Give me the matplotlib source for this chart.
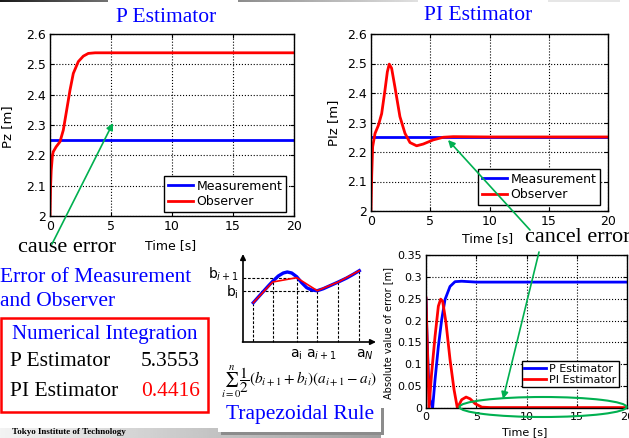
import numpy as np
import matplotlib
matplotlib.use('Agg')
from matplotlib import pyplot as plt
from matplotlib.patches import Ellipse, Rectangle

# time axis and estimates
t_p = [0, 0.05, 0.1, 0.2, 0.27, 0.5, 0.82, 1.09, 1.37, 1.64, 1.91, 2.32, 2.73, 3.14, 3.7, 5, 10, 20]
pz_obs = [2.0, 2.1, 2.15, 2.2, 2.212, 2.228, 2.245, 2.283, 2.35, 2.415, 2.47, 2.509, 2.527, 2.536, 2.538, 2.538, 2.538, 2.538]

t_pi = [0, 0.06, 0.14, 0.34, 0.62, 0.9, 1.18, 1.38, 1.54, 1.74, 2.02, 2.44, 2.87, 3.29, 3.85,
        4.41, 5.25, 6.1, 6.94, 10, 20]
piz_obs = [2.0, 2.12, 2.218, 2.263, 2.29, 2.33, 2.41, 2.472, 2.498, 2.484, 2.42, 2.32, 2.263, 2.232, 2.221,
           2.227, 2.241, 2.25, 2.252, 2.251, 2.251]

measurement = 2.25

t_err_p = [0, 0.07, 0.23, 0.4, 0.66, 0.9, 1.23, 1.56, 1.89, 2.39, 2.89, 3.55, 5, 10, 20]
err_p = [0.25, 0.187, 0.08, 0.019, 0.0, 0.065, 0.141, 0.202, 0.248, 0.278, 0.289, 0.29, 0.288, 0.288, 0.288]

t_err_pi = [0, 0.3, 0.56, 0.9, 1.23, 1.46, 1.66, 1.99, 2.39, 2.79, 3.12, 3.55, 3.99, 4.39, 4.88,
            5.55, 6.4, 10, 20]
err_pi = [0.252, 0.0, 0.08, 0.164, 0.233, 0.249, 0.244, 0.195, 0.111, 0.042, 0.0, 0.019, 0.025, 0.021, 0.01,
          0.002, 0.001, 0.001, 0.001]

time_ticks = [0, 5, 10, 15, 20]
pos_ticks = [2.0, 2.1, 2.2, 2.3, 2.4, 2.5, 2.6]
err_ticks = [0, 0.05, 0.1, 0.15, 0.2, 0.25, 0.3, 0.35]

integ_names = ['P Estimator', 'PI Estimator']
integ_values = ['5.3553', '0.4416']

# trapezoid sketch (slide pixel coords)
node_x = [253.3, 272.7, 296.7, 317.3, 338.3, 359.3]
node_y = [302.7, 282.0, 277.7, 290.7, 282.0, 270.7]
curve_x = [253.3, 261.7, 268.3, 272.7, 278.3, 283.3, 287.3, 291.7, 296.7, 301.7, 306.7, 311.7,
           317.3, 323.3, 330.0, 338.3, 346.7, 353.3, 359.3]
curve_y = [302.7, 293.3, 286.0, 281.3, 276.0, 273.0, 272.0, 273.0, 276.7, 282.7, 287.7, 290.0,
           290.7, 288.7, 285.7, 282.0, 278.0, 274.3, 270.7]

W, H = 629, 438
blue = '#0000ff'
red = '#ff0000'
green = '#00b050'
serif = 'Liberation Serif'

fig = plt.figure(figsize=(W / 100, H / 100), dpi=100)


def box(l, t, r, b):
    return [l / W, 1 - b / H, (r - l) / W, (b - t) / H]


def style(ax, yticks):
    ax.set_xlim(0, 20)
    ax.set_ylim(yticks[0], yticks[-1])
    ax.set_xticks(time_ticks)
    ax.set_xticklabels(['%g' % v for v in time_ticks])
    ax.set_yticks(yticks)
    ax.set_yticklabels(['%g' % v for v in yticks])
    ax.grid(True, ls=':', color='k', lw=0.8)
    ax.tick_params(direction='in', length=3, labelsize=9, top=True, right=True, pad=3)
    for s in ax.spines.values():
        s.set_linewidth(1.0)


# P estimator
ax1 = fig.add_axes(box(50, 34, 294, 216))
ax1.plot([0, 20], [measurement, measurement], color=blue, lw=2, label='Measurement')
ax1.plot(t_p, pz_obs, color=red, lw=2, label='Observer')
style(ax1, pos_ticks)
ax1.set_xlabel('Time [s]', fontsize=9)
ax1.xaxis.set_label_coords(0.495, -0.16)
ax1.xaxis.label.set_va('center')
ax1.set_ylabel('Pz [m]', fontsize=9.5)
ax1.yaxis.set_label_coords(-0.148, 0.49)
ax1.legend(loc='lower right', bbox_to_anchor=(0.967, 0.022), borderaxespad=0, fontsize=9,
           fancybox=False, edgecolor='k', framealpha=1, labelspacing=0.2, borderpad=0.3,
           handletextpad=0.3)
ax1.get_legend().get_frame().set_linewidth(1.0)

# PI estimator
ax2 = fig.add_axes(box(371, 34, 608, 211))
ax2.plot([0, 20], [measurement, measurement], color=blue, lw=2, label='Measurement')
ax2.plot(t_pi, piz_obs, color=red, lw=2, label='Observer')
style(ax2, pos_ticks)
ax2.set_xlabel('Time [s]', fontsize=9)
ax2.xaxis.set_label_coords(0.49, -0.153)
ax2.xaxis.label.set_va('center')
ax2.set_ylabel('PIz [m]', fontsize=9.5)
ax2.yaxis.set_label_coords(-0.13, 0.5)
ax2.legend(loc='lower right', bbox_to_anchor=(0.966, 0.034), borderaxespad=0, fontsize=9,
           fancybox=False, edgecolor='k', framealpha=1, labelspacing=0.2, borderpad=0.3,
           handletextpad=0.3)
ax2.get_legend().get_frame().set_linewidth(1.0)

# absolute error
ax3 = fig.add_axes(box(426, 255, 627, 408))
ax3.plot(t_err_p, err_p, color=blue, lw=2, label='P Estimator')
ax3.plot(t_err_pi, err_pi, color=red, lw=2, label='PI Estimator')
style(ax3, err_ticks)
ax3.tick_params(labelsize=8)
ax3.set_xlabel('Time [s]', fontsize=8)
ax3.xaxis.set_label_coords(0.49, -0.157)
ax3.xaxis.label.set_va('center')
ax3.set_ylabel('Absolute value of error [m]', fontsize=7)
ax3.yaxis.set_label_coords(-0.165, 0.49)
ax3.legend(loc='lower right', bbox_to_anchor=(0.96, 0.137), borderaxespad=0, fontsize=8,
           fancybox=False, edgecolor='k', framealpha=1, labelspacing=0.1, borderpad=0.2,
           handletextpad=0.3)
ax3.get_legend().get_frame().set_linewidth(1.0)

# overlay in slide pixels
ov = fig.add_axes([0, 0, 1, 1])
ov.axis('off')

# slide decorations
ov.imshow(np.linspace(0.95, 0.62, 200)[None, :], cmap='gray', vmin=0, vmax=1,
          extent=[0, 381, 438, 428], aspect='auto', zorder=0)
ov.imshow(np.linspace(0.1, 0.45, 100)[None, :], cmap='gray', vmin=0, vmax=1,
          extent=[0, 108, 2, 0], aspect='auto', zorder=0)
ov.imshow(np.linspace(0.55, 0.88, 100)[None, :], cmap='gray', vmin=0, vmax=1,
          extent=[238, 418, 2, 0], aspect='auto', zorder=0)
ov.add_patch(Rectangle((548, 0), 72, 1.5, color='0.9', lw=0))
ov.add_patch(Rectangle((221, 408), 163, 27, color='0.55', lw=0, zorder=1))
ov.add_patch(Rectangle((218, 405), 163, 27, color='white', lw=0, zorder=1))

ov.text(166, 17, 'P Estimator', family=serif, fontsize=15.5, color=blue, ha='center', va='center')
ov.text(478, 15, 'PI Estimator', family=serif, fontsize=15.5, color=blue, ha='center', va='center')
ov.text(18, 247, 'cause error', family=serif, fontsize=16, ha='left', va='center')
ov.text(525, 238, 'cancel error', family=serif, fontsize=16, ha='left', va='center')
ov.text(0, 277, 'Error of Measurement', family=serif, fontsize=15.5, color=blue, ha='left', va='center')
ov.text(0, 301, 'and Observer', family=serif, fontsize=15.5, color=blue, ha='left', va='center')

ov.add_patch(Rectangle((1, 318), 207, 94, fill=False, ec=red, lw=1.8, zorder=2))
ov.text(12, 335, 'Numerical Integration', family=serif, fontsize=15, color=blue, ha='left', va='center')
for i, (name, val) in enumerate(zip(integ_names, integ_values)):
    y = 362 + 30 * i
    ov.text(10, y, name, family=serif, fontsize=15.5, ha='left', va='center')
    ov.text(200, y, val, family=serif, fontsize=15.5, ha='right', va='center',
            color=red if i == 1 else 'k')

ov.text(12, 432, 'Tokyo Institute of Technology', family=serif, fontsize=6.5, weight='bold',
        ha='left', va='center', zorder=3)

# trapezoid sketch
ov.annotate('', xy=(243, 254), xytext=(243, 342),
            arrowprops=dict(arrowstyle='-|>', color='k', lw=1.2, mutation_scale=8, shrinkA=0, shrinkB=0))
ov.annotate('', xy=(376, 342), xytext=(242.5, 342),
            arrowprops=dict(arrowstyle='-|>', color='k', lw=1.2, mutation_scale=8, shrinkA=0, shrinkB=0))
for x, y in zip(node_x, node_y):
    ov.plot([x, x], [y, 342], color='k', ls='--', lw=0.8, dashes=(2.5, 1.5))
ov.plot([243, node_x[2]], [node_y[2], node_y[2]], color='k', lw=0.8, dashes=(2.5, 1.5))
ov.plot([243, node_x[3]], [node_y[3], node_y[3]], color='k', lw=0.8, dashes=(2.5, 1.5))
ov.plot(curve_x, curve_y, color=blue, lw=2.4)
ov.plot(node_x, node_y, color=red, lw=1.2)
ov.text(239, 274, r'b$_{i+1}$', fontsize=10, ha='right', va='center')
ov.text(239, 292, r'b$_{\mathregular{i}}$', fontsize=10, ha='right', va='center')
ov.text(296, 355, r'a$_{\mathregular{i}}$', fontsize=10, ha='center', va='center')
ov.text(321, 355, r'a$_{i+1}$', fontsize=10, ha='center', va='center')
ov.text(365, 355, r'a$_N$', fontsize=10, ha='center', va='center')
ov.text(221, 382, r'$\sum_{i=0}^{n}\dfrac{1}{2}(b_{i+1}+b_i)(a_{i+1}-a_i)$', fontsize=11,
        math_fontfamily='stix', ha='left', va='center', zorder=3)
ov.text(300, 414, 'Trapezoidal Rule', family=serif, fontsize=15.5, color=blue, ha='center',
        va='center', zorder=3)

# green pointers
arw = dict(arrowstyle='-|>', color=green, lw=1.2, mutation_scale=10, shrinkA=0, shrinkB=0)
ov.annotate('', xy=(113, 123), xytext=(52, 244), arrowprops=arw)
ov.annotate('', xy=(448, 140), xytext=(530, 230), arrowprops=arw)
ov.annotate('', xy=(503, 399), xytext=(539, 252), arrowprops=arw)
ov.add_patch(Ellipse((543, 407), 167, 20, fill=False, ec=green, lw=1.5, zorder=3))

ov.set_xlim(0, W)
ov.set_ylim(H, 0)

fig.savefig('out.png', dpi=100)
